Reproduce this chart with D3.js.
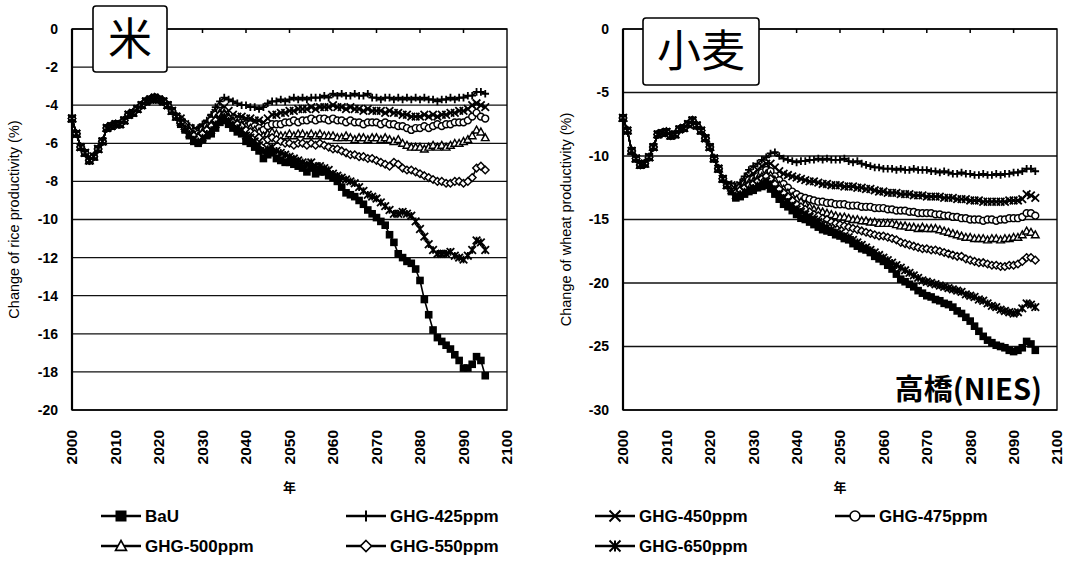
<!DOCTYPE html>
<html>
<head>
<meta charset="utf-8">
<script src="https://cdn.jsdelivr.net/npm/d3@7"></script>
<style>
  body { margin: 0; background: #fff; }
  svg { display: block; font-family: "Liberation Sans", Arial, sans-serif; }
  .grid line { stroke: #111; stroke-width: 1.3; }
  .series path.line { fill: none; stroke: #000; stroke-width: 1.6; }
</style>
</head>
<body>
<svg id="chart" width="1073" height="561"></svg>
<script>
// ---- data ----
const years = d3.range(2000, 2096);
const seriesNames = ['BaU', 'GHG-425ppm', 'GHG-450ppm', 'GHG-475ppm', 'GHG-500ppm', 'GHG-550ppm', 'GHG-650ppm'];
const xTicks = [2000, 2010, 2020, 2030, 2040, 2050, 2060, 2070, 2080, 2090, 2100];
const riceTicks = [0, -2, -4, -6, -8, -10, -12, -14, -16, -18, -20];
const wheatTicks = [0, -5, -10, -15, -20, -25, -30];

// rice, 2000-2024 shared by all scenarios
const riceEarly = [-4.7, -5.5, -6.2, -6.5, -6.9, -6.7, -6.3, -5.9, -5.2, -5.1,
  -5.0, -5.0, -4.8, -4.5, -4.4, -4.2, -4.0, -3.8, -3.7, -3.6,
  -3.7, -3.8, -4.0, -4.3, -4.6];
// rice, 2025-2095
const riceBaU = [-5.0, -5.3, -5.6, -5.9, -6.0,
  -5.8, -5.6, -5.5, -5.2, -4.9, -4.8, -5.0, -5.2, -5.4, -5.5,
  -5.9, -6.0, -6.2, -6.4, -6.8, -6.6, -6.5, -6.8, -6.9, -7.0,
  -7.0, -7.1, -7.2, -7.3, -7.5, -7.3, -7.6, -7.5, -7.5, -7.7,
  -7.8, -8.0, -8.3, -8.6, -8.7, -8.8, -9.0, -9.2, -9.5, -9.7,
  -9.9, -10.1, -10.3, -10.8, -11.2, -11.8, -12.0, -12.2, -12.3, -12.6,
  -13.2, -14.2, -15.0, -15.8, -16.2, -16.4, -16.6, -16.8, -17.1, -17.4,
  -17.8, -17.8, -17.6, -17.2, -17.4, -18.2];
const rice425 = [-4.7, -4.9, -5.1, -5.2, -5.2,
  -5.0, -4.8, -4.5, -4.1, -3.8, -3.6, -3.7, -3.8, -3.9, -4.0,
  -4.0, -4.1, -4.1, -4.2, -4.1, -3.9, -3.8, -3.8, -3.7, -3.8,
  -3.7, -3.6, -3.7, -3.6, -3.7, -3.6, -3.6, -3.6, -3.5, -3.6,
  -3.4, -3.5, -3.4, -3.5, -3.5, -3.4, -3.5, -3.5, -3.4, -3.6,
  -3.6, -3.7, -3.6, -3.6, -3.7, -3.6, -3.7, -3.6, -3.7, -3.6,
  -3.7, -3.6, -3.7, -3.7, -3.8, -3.7, -3.7, -3.6, -3.7, -3.6,
  -3.6, -3.5, -3.5, -3.3, -3.3, -3.4];
const rice450 = [-4.7, -5.0, -5.2, -5.3, -5.4,
  -5.2, -5.0, -4.7, -4.4, -4.2, -4.1, -4.3, -4.5, -4.6, -4.6,
  -4.7, -4.7, -4.8, -4.8, -4.9, -4.7, -4.5, -4.5, -4.4, -4.4,
  -4.3, -4.3, -4.2, -4.2, -4.2, -4.1, -4.2, -4.1, -4.1, -4.1,
  -4.0, -4.1, -4.1, -4.2, -4.1, -4.2, -4.2, -4.3, -4.2, -4.3,
  -4.3, -4.3, -4.4, -4.3, -4.4, -4.4, -4.5, -4.5, -4.6, -4.6,
  -4.6, -4.5, -4.6, -4.5, -4.6, -4.5, -4.5, -4.4, -4.4, -4.3,
  -4.3, -4.2, -4.0, -3.9, -4.0, -4.1];
const rice475 = [-4.8, -5.0, -5.2, -5.4, -5.5,
  -5.3, -5.1, -4.8, -4.5, -4.3, -4.3, -4.5, -4.7, -4.8, -4.9,
  -5.0, -5.0, -5.1, -5.2, -5.3, -5.1, -5.0, -5.0, -5.0, -4.9,
  -4.9, -4.8, -4.9, -4.8, -4.8, -4.7, -4.8, -4.7, -4.7, -4.8,
  -4.7, -4.8, -4.8, -4.9, -4.8, -4.9, -4.9, -5.0, -4.9, -4.9,
  -4.9, -5.0, -4.9, -5.0, -5.0, -5.1, -5.1, -5.2, -5.3, -5.2,
  -5.2, -5.1, -5.2, -5.1, -5.0, -5.1, -5.0, -5.0, -4.9, -4.9,
  -4.9, -4.8, -4.6, -4.4, -4.6, -4.7];
const rice500 = [-4.8, -5.1, -5.3, -5.5, -5.6,
  -5.4, -5.2, -5.0, -4.7, -4.4, -4.4, -4.6, -4.8, -4.9, -5.0,
  -5.1, -5.2, -5.3, -5.4, -5.6, -5.5, -5.4, -5.5, -5.6, -5.6,
  -5.5, -5.6, -5.5, -5.5, -5.6, -5.5, -5.6, -5.5, -5.6, -5.6,
  -5.6, -5.7, -5.7, -5.6, -5.7, -5.8, -5.7, -5.7, -5.8, -5.7,
  -5.7, -5.8, -5.7, -5.8, -5.9, -5.8, -6.0, -6.1, -6.2, -6.2,
  -6.2, -6.3, -6.2, -6.1, -6.2, -6.1, -6.2, -6.1, -6.0, -6.0,
  -5.9, -5.8, -5.6, -5.3, -5.4, -5.7];
const rice550 = [-4.9, -5.1, -5.4, -5.6, -5.7,
  -5.5, -5.3, -5.1, -4.8, -4.5, -4.5, -4.7, -4.9, -5.0, -5.1,
  -5.3, -5.4, -5.5, -5.7, -5.9, -5.8, -5.7, -5.8, -5.9, -6.0,
  -6.0, -6.1, -6.0, -6.0, -6.1, -6.0, -6.1, -6.0, -6.1, -6.2,
  -6.3, -6.3, -6.4, -6.5, -6.6, -6.6, -6.7, -6.7, -6.8, -6.8,
  -6.9, -7.0, -7.1, -7.2, -7.0, -7.1, -7.3, -7.4, -7.4, -7.5,
  -7.6, -7.7, -7.8, -7.9, -8.0, -8.0, -8.1, -8.1, -8.0, -8.0,
  -8.1, -8.0, -7.8, -7.3, -7.2, -7.4];
const rice650 = [-4.9, -5.2, -5.5, -5.8, -5.9,
  -5.7, -5.5, -5.3, -5.0, -4.7, -4.6, -4.8, -5.0, -5.2, -5.3,
  -5.6, -5.7, -5.9, -6.1, -6.4, -6.3, -6.2, -6.4, -6.5, -6.6,
  -6.7, -6.8, -6.9, -7.0, -7.1, -7.0, -7.2, -7.2, -7.3, -7.4,
  -7.6, -7.7, -7.8, -7.9, -8.0, -8.1, -8.3, -8.5, -8.7, -8.8,
  -8.9, -9.1, -9.3, -9.5, -9.7, -9.7, -9.6, -9.7, -9.8, -10.1,
  -10.5, -10.9, -11.3, -11.6, -11.8, -11.8, -11.8, -11.7, -11.9, -12.0,
  -12.1, -11.9, -11.6, -11.1, -11.2, -11.6];

// wheat, 2000-2024 shared by all scenarios
const wheatEarly = [-7.0, -8.0, -9.6, -10.2, -10.7, -10.6, -10.1, -9.3, -8.3, -8.2,
  -8.1, -8.4, -8.3, -7.9, -7.8, -7.5, -7.2, -7.6, -8.0, -8.6,
  -9.3, -10.2, -11.0, -11.8, -12.3];
// wheat, 2025-2095
const wheatBaU = [-12.8, -13.3, -13.2, -13.0, -12.8,
  -12.7, -12.5, -12.4, -12.3, -12.6, -13.0, -13.4, -13.8, -14.0, -14.3,
  -14.6, -14.9, -15.0, -15.2, -15.4, -15.6, -15.8, -15.9, -16.0, -16.2,
  -16.3, -16.5, -16.6, -16.9, -17.1, -17.3, -17.4, -17.6, -17.9, -18.1,
  -18.3, -18.6, -18.9, -19.3, -19.7, -19.9, -20.1, -20.3, -20.6, -20.8,
  -21.0, -21.1, -21.3, -21.4, -21.6, -21.7, -21.9, -22.2, -22.4, -22.7,
  -23.0, -23.4, -23.8, -24.2, -24.5, -24.7, -24.9, -25.0, -25.1, -25.3,
  -25.4, -25.3, -25.1, -24.6, -24.8, -25.3];
const wheat425 = [-12.2, -12.4, -12.1, -11.6, -11.1,
  -10.8, -10.6, -10.3, -10.1, -9.8, -9.7, -10.0, -10.2, -10.3, -10.4,
  -10.5, -10.4, -10.4, -10.3, -10.3, -10.2, -10.3, -10.2, -10.3, -10.3,
  -10.3, -10.2, -10.4, -10.5, -10.4, -10.6, -10.7, -10.8, -10.9, -10.9,
  -11.0, -11.0, -11.0, -11.1, -11.0, -11.1, -11.1, -11.0, -11.1, -11.1,
  -11.1, -11.2, -11.2, -11.3, -11.2, -11.3, -11.4, -11.4, -11.3, -11.4,
  -11.4, -11.5, -11.5, -11.4, -11.5, -11.5, -11.4, -11.5, -11.4, -11.4,
  -11.3, -11.3, -11.2, -11.0, -11.0, -11.2];
const wheat450 = [-12.3, -12.5, -12.3, -12.0, -11.6,
  -11.4, -11.1, -10.8, -10.6, -10.6, -10.9, -11.2, -11.4, -11.5, -11.6,
  -11.7, -11.8, -11.9, -12.0, -12.0, -12.1, -12.2, -12.2, -12.3, -12.3,
  -12.3, -12.4, -12.4, -12.4, -12.5, -12.5, -12.6, -12.6, -12.7, -12.8,
  -12.8, -12.9, -12.9, -12.9, -13.0, -13.0, -13.0, -13.1, -13.1, -13.1,
  -13.2, -13.2, -13.2, -13.2, -13.3, -13.3, -13.3, -13.4, -13.4, -13.4,
  -13.5, -13.5, -13.5, -13.6, -13.6, -13.6, -13.6, -13.6, -13.6, -13.5,
  -13.5, -13.5, -13.4, -13.0, -13.1, -13.3];
const wheat475 = [-12.4, -12.7, -12.5, -12.2, -11.9,
  -11.8, -11.6, -11.3, -11.1, -11.2, -11.6, -11.9, -12.2, -12.5, -12.8,
  -13.0, -13.2, -13.3, -13.4, -13.5, -13.6, -13.6, -13.7, -13.7, -13.8,
  -13.8, -13.8, -13.9, -13.9, -13.9, -14.0, -14.0, -14.0, -14.1, -14.1,
  -14.1, -14.2, -14.2, -14.3, -14.3, -14.3, -14.4, -14.4, -14.5, -14.5,
  -14.5, -14.5, -14.6, -14.6, -14.7, -14.7, -14.8, -14.8, -14.9, -14.9,
  -15.0, -15.0, -15.0, -15.1, -15.0, -15.0, -15.1, -15.0, -15.0, -14.9,
  -14.9, -14.9, -14.8, -14.5, -14.5, -14.7];
const wheat500 = [-12.5, -12.8, -12.6, -12.3, -12.1,
  -12.0, -11.8, -11.6, -11.4, -11.5, -11.9, -12.3, -12.6, -12.9, -13.2,
  -13.4, -13.6, -13.8, -14.0, -14.2, -14.3, -14.4, -14.5, -14.6, -14.7,
  -14.8, -14.8, -14.9, -15.0, -15.0, -15.1, -15.1, -15.2, -15.2, -15.3,
  -15.3, -15.3, -15.3, -15.4, -15.5, -15.5, -15.6, -15.6, -15.7, -15.6,
  -15.7, -15.7, -15.7, -15.8, -15.9, -16.0, -16.1, -16.2, -16.3, -16.4,
  -16.4, -16.5, -16.5, -16.5, -16.6, -16.5, -16.5, -16.6, -16.5, -16.5,
  -16.4, -16.4, -16.2, -15.9, -16.0, -16.2];
const wheat550 = [-12.6, -12.9, -12.7, -12.5, -12.3,
  -12.2, -12.0, -11.8, -11.6, -11.8, -12.2, -12.6, -12.9, -13.2, -13.5,
  -13.8, -14.0, -14.2, -14.4, -14.6, -14.7, -14.9, -15.0, -15.2, -15.3,
  -15.4, -15.5, -15.6, -15.7, -15.8, -15.9, -16.0, -16.1, -16.2, -16.3,
  -16.3, -16.4, -16.5, -16.6, -16.8, -16.9, -17.0, -17.1, -17.2, -17.3,
  -17.3, -17.4, -17.4, -17.5, -17.6, -17.7, -17.8, -17.9, -17.9, -18.1,
  -18.2, -18.3, -18.4, -18.4, -18.5, -18.6, -18.6, -18.7, -18.7, -18.6,
  -18.6, -18.5, -18.3, -18.0, -18.0, -18.2];
const wheat650 = [-12.7, -13.1, -13.0, -12.8, -12.6,
  -12.5, -12.3, -12.1, -12.0, -12.2, -12.6, -13.0, -13.3, -13.6, -13.9,
  -14.2, -14.4, -14.6, -14.8, -15.0, -15.2, -15.4, -15.6, -15.8, -16.0,
  -16.1, -16.3, -16.4, -16.6, -16.8, -17.0, -17.2, -17.4, -17.6, -17.8,
  -18.0, -18.2, -18.4, -18.6, -18.8, -19.0, -19.2, -19.4, -19.6, -19.8,
  -19.9, -20.0, -20.1, -20.2, -20.3, -20.4, -20.5, -20.6, -20.7, -20.9,
  -21.0, -21.1, -21.3, -21.4, -21.6, -21.8, -21.9, -22.1, -22.2, -22.3,
  -22.4, -22.3, -22.0, -21.6, -21.7, -21.9];

const riceSeries = [riceBaU, rice425, rice450, rice475, rice500, rice550, rice650]
  .map(late => riceEarly.concat(late));
const wheatSeries = [wheatBaU, wheat425, wheat450, wheat475, wheat500, wheat550, wheat650]
  .map(late => wheatEarly.concat(late));

// ---- markers ----
const markerTypes = ['square', 'plus', 'cross', 'circle', 'triangle', 'diamond', 'star'];

function drawMarker(g, type, s, sw) {
  // s = half size, sw = stroke width
  if (type === 'square') {
    g.append('rect').attr('x', -s).attr('y', -s).attr('width', 2 * s).attr('height', 2 * s)
      .attr('fill', '#000');
  } else if (type === 'plus') {
    g.append('path').attr('d', `M${-s},0H${s}M0,${-s}V${s}`)
      .attr('stroke', '#000').attr('stroke-width', sw).attr('fill', 'none');
  } else if (type === 'cross') {
    g.append('path').attr('d', `M${-s},${-s}L${s},${s}M${-s},${s}L${s},${-s}`)
      .attr('stroke', '#000').attr('stroke-width', sw).attr('fill', 'none');
  } else if (type === 'circle') {
    g.append('circle').attr('r', s * 0.9).attr('fill', '#fff').attr('stroke', '#000').attr('stroke-width', sw * 0.8);
  } else if (type === 'triangle') {
    g.append('path').attr('d', `M0,${-s}L${s},${s * 0.8}L${-s},${s * 0.8}Z`)
      .attr('fill', '#fff').attr('stroke', '#000').attr('stroke-width', sw * 0.8);
  } else if (type === 'diamond') {
    g.append('path').attr('d', `M0,${-s}L${s},0L0,${s}L${-s},0Z`)
      .attr('fill', '#fff').attr('stroke', '#000').attr('stroke-width', sw * 0.8);
  } else if (type === 'star') {
    g.append('path').attr('d', `M${-s},${-s}L${s},${s}M${-s},${s}L${s},${-s}M0,${-s}V${s}`)
      .attr('stroke', '#000').attr('stroke-width', sw).attr('fill', 'none');
  }
}

const svg = d3.select('#chart');

function drawPanel(opts) {
  const x = d3.scaleLinear().domain([2000, 2100]).range([opts.left, opts.right]);
  const y = d3.scaleLinear().domain([opts.ticks[opts.ticks.length - 1], 0]).range([opts.bottom, opts.top]);
  const g = svg.append('g');

  // horizontal gridlines
  g.append('g').attr('class', 'grid')
    .selectAll('line').data(opts.ticks).enter().append('line')
    .attr('x1', opts.left).attr('x2', opts.right)
    .attr('y1', d => y(d)).attr('y2', d => y(d));

  // plot frame
  g.append('rect')
    .attr('x', opts.left).attr('y', opts.top)
    .attr('width', opts.right - opts.left).attr('height', opts.bottom - opts.top)
    .attr('fill', 'none').attr('stroke', '#000').attr('stroke-width', 1.4);
  g.append('line')
    .attr('x1', opts.left).attr('x2', opts.left).attr('y1', opts.top).attr('y2', opts.bottom)
    .attr('stroke', '#000').attr('stroke-width', 2.2);

  // category tick marks along the top (axis crosses at 0)
  g.append('g').selectAll('line').data(xTicks.slice(1, -1)).enter().append('line')
    .attr('x1', d => x(d)).attr('x2', d => x(d))
    .attr('y1', opts.top).attr('y2', opts.top + 4)
    .attr('stroke', '#000').attr('stroke-width', 1.5);

  // y tick labels
  g.append('g').selectAll('text').data(opts.ticks).enter().append('text')
    .attr('x', opts.left - 14).attr('y', d => y(d))
    .attr('dy', '0.35em').attr('text-anchor', 'end')
    .attr('font-size', 14).attr('font-weight', 'bold')
    .text(d => d);

  // x tick labels (rotated)
  g.append('g').selectAll('text').data(xTicks).enter().append('text')
    .attr('transform', d => `translate(${x(d)},${opts.bottom + 20}) rotate(-90)`)
    .attr('dy', '0.35em').attr('text-anchor', 'end')
    .attr('font-size', 15.5).attr('font-weight', 'bold')
    .text(d => d);

  // axis titles
  g.append('text')
    .attr('transform', `translate(${opts.titleX},${(opts.top + opts.bottom) / 2}) rotate(-90)`)
    .attr('text-anchor', 'middle').attr('dy', '0.35em')
    .attr('font-size', 14.5)
    .text(opts.yTitle);
  g.append('text')
    .attr('x', (opts.left + opts.right) / 2).attr('y', 492)
    .attr('text-anchor', 'middle')
    .attr('font-size', 13).attr('font-weight', 'bold')
    .attr('font-family', '"Noto Sans CJK JP", sans-serif')
    .text('年');

  // series
  const line = d3.line().x((d, i) => x(years[i])).y(d => y(d));
  opts.series.forEach((vals, si) => {
    const sg = g.append('g').attr('class', 'series');
    sg.append('path').attr('class', 'line').attr('d', line(vals));
    vals.forEach((v, i) => {
      const mg = sg.append('g').attr('transform', `translate(${x(years[i])},${y(v)})`);
      drawMarker(mg, markerTypes[si], 3.8, 1.8);
    });
  });

  // crop label box
  const lb = opts.label;
  g.append('rect')
    .attr('x', lb.x).attr('y', lb.y).attr('width', lb.w).attr('height', lb.h)
    .attr('rx', 3).attr('fill', '#fff').attr('stroke', '#000').attr('stroke-width', 1.6);
  g.append('text')
    .attr('x', lb.x + lb.w / 2).attr('y', lb.y + lb.h / 2)
    .attr('dy', '0.36em').attr('text-anchor', 'middle')
    .attr('font-size', 44)
    .attr('font-family', '"Noto Sans CJK JP", sans-serif')
    .text(lb.text);
}

drawPanel({
  left: 72, right: 507, top: 29, bottom: 410,
  ticks: riceTicks, series: riceSeries,
  titleX: 14, yTitle: 'Change of rice productivity (%)',
  label: {x: 93, y: 6, w: 74, h: 66, text: '米'}
});
drawPanel({
  left: 623, right: 1057, top: 29, bottom: 410,
  ticks: wheatTicks, series: wheatSeries,
  titleX: 566, yTitle: 'Change of wheat productivity (%)',
  label: {x: 643, y: 18, w: 116, h: 67, text: '小麦'}
});

// author credit
svg.append('text')
  .attr('x', 1042).attr('y', 400)
  .attr('text-anchor', 'end')
  .attr('font-size', 29).attr('font-weight', 'bold')
  .attr('font-family', '"Noto Sans CJK JP", sans-serif')
  .text('高橋(NIES)');

// legend
const legendPos = [[121, 516], [366, 516], [615, 516], [855, 516], [121, 546], [366, 546], [615, 546]];
const legend = svg.append('g');
seriesNames.forEach((name, i) => {
  const lg = legend.append('g').attr('transform', `translate(${legendPos[i][0]},${legendPos[i][1]})`);
  lg.append('line').attr('x1', -20).attr('x2', 20).attr('stroke', '#000').attr('stroke-width', 2.4);
  drawMarker(lg, markerTypes[i], 5.5, 2);
  lg.append('text').attr('x', 24).attr('dy', '0.36em')
    .attr('font-size', 17).attr('font-weight', 'bold')
    .text(name);
});
</script>
</body>
</html>
